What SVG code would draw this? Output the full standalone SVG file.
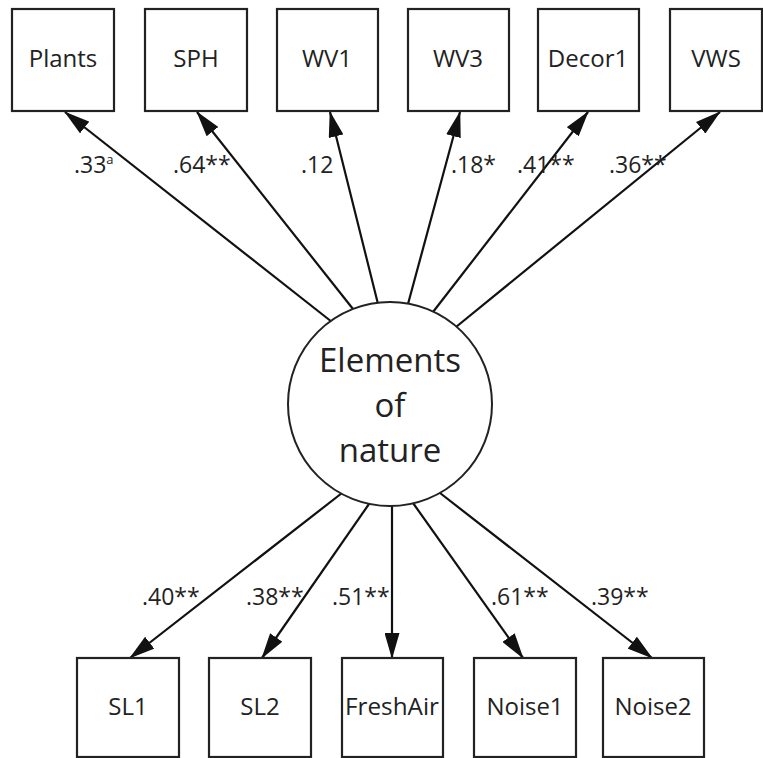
<svg xmlns="http://www.w3.org/2000/svg" width="763" height="758" viewBox="0 0 763 758">
<style>
.box{fill:#fff;stroke:#222;stroke-width:2.2}
.lat{fill:#fff;stroke:#222;stroke-width:2}
.t{font-family:"Open Sans","Noto Sans",sans-serif;fill:#222;text-anchor:middle}
.nt{font-size:24px}
.ct{font-size:33px}
.lb{font-family:"Open Sans","Noto Sans",sans-serif;fill:#222;font-size:23px}
.sup{font-size:13px}
.edge{stroke:#111;stroke-width:2.2;fill:none;marker-end:url(#ah)}
</style>
<defs>
<marker id="ah" viewBox="0 0 26 15" refX="25" refY="7.5" markerWidth="26" markerHeight="15" markerUnits="userSpaceOnUse" orient="auto">
<path d="M0,0 L26,7.5 L0,15 z" fill="#111"/>
</marker>
</defs>
<rect width="763" height="758" fill="#fff"/>
<g id="connectors">
<line class="edge" x1="332" y1="322" x2="65" y2="112"/>
<line class="edge" x1="353" y1="309" x2="197" y2="112"/>
<line class="edge" x1="378" y1="304" x2="330" y2="112"/>
<line class="edge" x1="408" y1="304" x2="460" y2="112"/>
<line class="edge" x1="433" y1="312" x2="588" y2="112"/>
<line class="edge" x1="456" y1="327" x2="720" y2="112"/>
<line class="edge" x1="342" y1="493" x2="130" y2="658"/>
<line class="edge" x1="369" y1="504" x2="262" y2="658"/>
<line class="edge" x1="392" y1="505" x2="392" y2="658"/>
<line class="edge" x1="413" y1="503" x2="523" y2="658"/>
<line class="edge" x1="440" y1="493" x2="652" y2="658"/>
</g>
<g id="Plants"><rect class="box" x="12" y="9" width="102" height="102"/><text class="t nt" x="63" y="67">Plants</text></g>
<g id="SPH"><rect class="box" x="145" y="9" width="102" height="102"/><text class="t nt" x="196" y="67">SPH</text></g>
<g id="WV1"><rect class="box" x="277" y="9" width="101" height="102"/><text class="t nt" x="327" y="67">WV1</text></g>
<g id="WV3"><rect class="box" x="408" y="9" width="101" height="102"/><text class="t nt" x="458" y="67">WV3</text></g>
<g id="Decor1"><rect class="box" x="538" y="9" width="101" height="102"/><text class="t nt" x="588" y="67">Decor1</text></g>
<g id="VWS"><rect class="box" x="670" y="9" width="92" height="102"/><text class="t nt" x="716" y="67">VWS</text></g>
<g id="Elements"><circle class="lat" cx="390" cy="404" r="102"/>
<text class="t ct" x="390" y="372">Elements</text>
<text class="t ct" x="390" y="417">of</text>
<text class="t ct" x="390" y="462">nature</text></g>
<g id="SL1"><rect class="box" x="77" y="658" width="102" height="99"/><text class="t nt" x="128" y="715">SL1</text></g>
<g id="SL2"><rect class="box" x="209" y="658" width="102" height="99"/><text class="t nt" x="260" y="715">SL2</text></g>
<g id="FreshAir"><rect class="box" x="342" y="658" width="101" height="99"/><text class="t nt" x="392" y="715" textLength="94" lengthAdjust="spacingAndGlyphs">FreshAir</text></g>
<g id="Noise1"><rect class="box" x="474" y="658" width="102" height="99"/><text class="t nt" x="525" y="715">Noise1</text></g>
<g id="Noise2"><rect class="box" x="603" y="658" width="101" height="99"/><text class="t nt" x="653" y="715">Noise2</text></g>
<g id="labels">
<text class="lb" x="74" y="173">.33<tspan class="sup" dy="-9">a</tspan></text>
<text class="lb" x="173" y="173">.64**</text>
<text class="lb" x="301" y="173">.12</text>
<text class="lb" x="451" y="173">.18*</text>
<text class="lb" x="517" y="173">.41**</text>
<text class="lb" x="609" y="173">.36**</text>
<text class="lb" x="142" y="605">.40**</text>
<text class="lb" x="246" y="605">.38**</text>
<text class="lb" x="332" y="605">.51**</text>
<text class="lb" x="491" y="605">.61**</text>
<text class="lb" x="591" y="605">.39**</text>
</g>
</svg>
